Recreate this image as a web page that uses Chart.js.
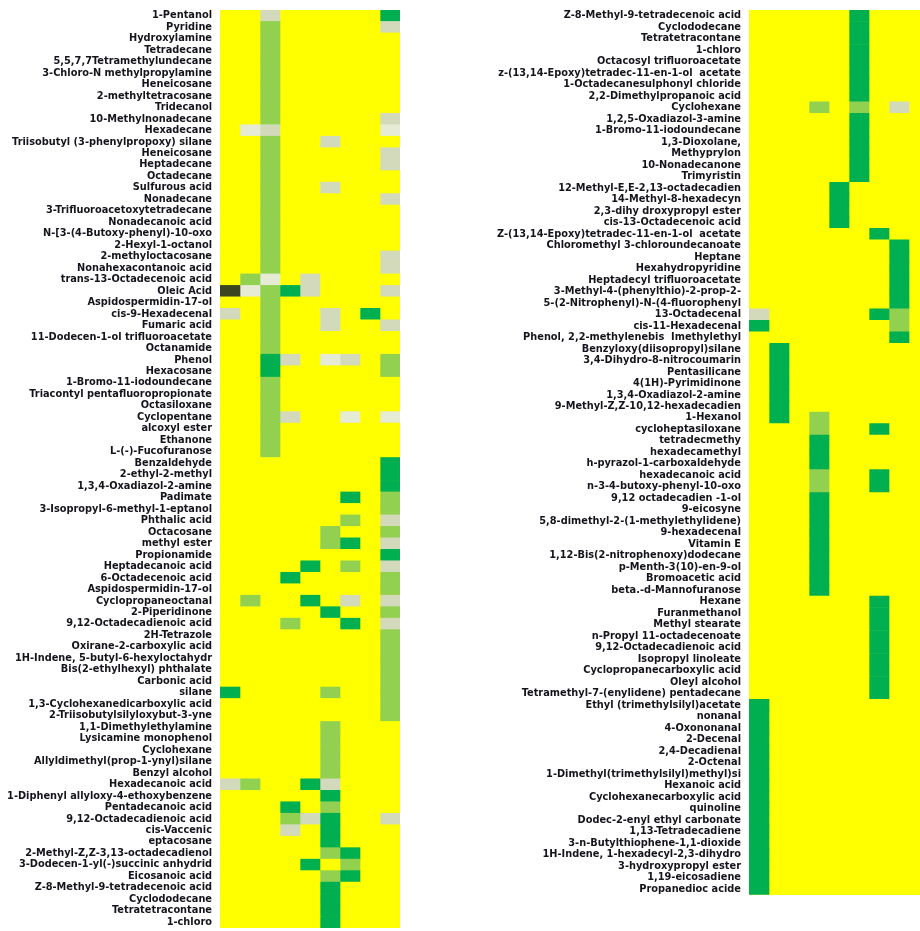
<!DOCTYPE html>
<html>
<head>
<meta charset="utf-8">
<script src="https://cdn.jsdelivr.net/npm/chart.js@4.4.1/dist/chart.umd.min.js"></script>
<style>
  html, body { margin: 0; padding: 0; background: #fff; width: 920px; height: 931px; overflow: hidden; }
  .panel { position: absolute; top: 0; }
  #left { left: 0; }
  #right { left: 440px; }
</style>
</head>
<body>
<canvas id="left" class="panel" width="400" height="931"></canvas>
<canvas id="right" class="panel" width="489" height="900"></canvas>
<script>
// Compounds of the first panel, top to bottom
const leftCompounds = [
  "1-Pentanol", "Pyridine", "Hydroxylamine", "Tetradecane", "5,5,7,7Tetramethylundecane",
  "3-Chloro-N methylpropylamine", "Heneicosane", "2-methyltetracosane", "Tridecanol", "10-Methylnonadecane",
  "Hexadecane", "Triisobutyl (3-phenylpropoxy) silane", "Heneicosane", "Heptadecane", "Octadecane",
  "Sulfurous acid", "Nonadecane", "3-Trifluoroacetoxytetradecane", "Nonadecanoic acid", "N-[3-(4-Butoxy-phenyl)-10-oxo",
  "2-Hexyl-1-octanol", "2-methyloctacosane", "Nonahexacontanoic acid", "trans-13-Octadecenoic acid", "Oleic Acid",
  "Aspidospermidin-17-ol", "cis-9-Hexadecenal", "Fumaric acid", "11-Dodecen-1-ol trifluoroacetate", "Octanamide",
  "Phenol", "Hexacosane", "1-Bromo-11-iodoundecane", "Triacontyl pentafluoropropionate", "Octasiloxane",
  "Cyclopentane", "alcoxyl ester", "Ethanone", "L-(-)-Fucofuranose", "Benzaldehyde",
  "2-ethyl-2-methyl", "1,3,4-Oxadiazol-2-amine", "Padimate", "3-Isopropyl-6-methyl-1-eptanol", "Phthalic acid",
  "Octacosane", "methyl ester", "Propionamide", "Heptadecanoic acid", "6-Octadecenoic acid",
  "Aspidospermidin-17-ol", "Cyclopropaneoctanal", "2-Piperidinone", "9,12-Octadecadienoic acid", "2H-Tetrazole",
  "Oxirane-2-carboxylic acid", "1H-Indene, 5-butyl-6-hexyloctahydr", "Bis(2-ethylhexyl) phthalate", "Carbonic acid", "silane",
  "1,3-Cyclohexanedicarboxylic acid", "2-Triisobutylsilyloxybut-3-yne", "1,1-Dimethylethylamine", "Lysicamine monophenol", "Cyclohexane",
  "Allyldimethyl(prop-1-ynyl)silane", "Benzyl alcohol", "Hexadecanoic acid", "1-Diphenyl allyloxy-4-ethoxybenzene", "Pentadecanoic acid",
  "9,12-Octadecadienoic acid", "cis-Vaccenic", "eptacosane", "2-Methyl-Z,Z-3,13-octadecadienol", "3-Dodecen-1-yl(-)succinic anhydrid",
  "Eicosanoic acid", "Z-8-Methyl-9-tetradecenoic acid", "Cyclododecane", "Tetratetracontane", "1-chloro"
];

// Intensity level per sample column (9 columns), one string per compound:
// 0 absent, 1 trace, 2 low, 3 medium, 4 high, 5 very high
const leftLevels = [
  "002000004", "003000002", "003000000", "003000000", "003000000",
  "003000000", "003000000", "003000000", "003000000", "003000002",
  "012000001", "003002000", "003000002", "003000002", "003000000",
  "003002000", "003000002", "003000000", "003000000", "003000000",
  "003000000", "003000002", "003000002", "031020000", "513420002",
  "003000000", "203002040", "003002002", "003000000", "003000000",
  "004201203", "004000003", "003000000", "003000000", "003000000",
  "003200101", "003000000", "003000000", "003000000", "000000004",
  "000000004", "000000004", "000000403", "000000003", "000000302",
  "000003003", "000003402", "000000004", "000040302", "000400003",
  "000000003", "030040202", "000004003", "000300402", "000000003",
  "000000003", "000000003", "000000003", "000000003", "400003003",
  "000000003", "000000003", "000003000", "000003000", "000003000",
  "000003000", "000003000", "230042000", "000004000", "000403000",
  "000324002", "000204000", "000004000", "000003400", "000040300",
  "000003400", "000004000", "000004000", "000004000", "000004000"
];

// Compounds of the second panel, top to bottom
const rightCompounds = [
  "Z-8-Methyl-9-tetradecenoic acid", "Cyclododecane", "Tetratetracontane", "1-chloro", "Octacosyl trifluoroacetate",
  "z-(13,14-Epoxy)tetradec-11-en-1-ol  acetate", "1-Octadecanesulphonyl chloride", "2,2-Dimethylpropanoic acid", "Cyclohexane", "1,2,5-Oxadiazol-3-amine",
  "1-Bromo-11-iodoundecane", "1,3-Dioxolane,", "Methyprylon", "10-Nonadecanone", "Trimyristin",
  "12-Methyl-E,E-2,13-octadecadien", "14-Methyl-8-hexadecyn", "2,3-dihy droxypropyl ester", "cis-13-Octadecenoic acid", "Z-(13,14-Epoxy)tetradec-11-en-1-ol  acetate",
  "Chloromethyl 3-chloroundecanoate", "Heptane", "Hexahydropyridine", "Heptadecyl trifluoroacetate", "3-Methyl-4-(phenylthio)-2-prop-2-",
  "5-(2-Nitrophenyl)-N-(4-fluorophenyl", "13-Octadecenal", "cis-11-Hexadecenal", "Phenol, 2,2-methylenebis  Imethylethyl", "Benzyloxy(diisopropyl)silane",
  "3,4-Dihydro-8-nitrocoumarin", "Pentasilicane", "4(1H)-Pyrimidinone", "1,3,4-Oxadiazol-2-amine", "9-Methyl-Z,Z-10,12-hexadecadien",
  "1-Hexanol", "cycloheptasiloxane", "tetradecmethy", "hexadecamethyl", "h-pyrazol-1-carboxaldehyde",
  "hexadecanoic acid", "n-3-4-butoxy-phenyl-10-oxo", "9,12 octadecadien -1-ol", "9-eicosyne", "5,8-dimethyl-2-(1-methylethylidene)",
  "9-hexadecenal", "Vitamin E", "1,12-Bis(2-nitrophenoxy)dodecane", "p-Menth-3(10)-en-9-ol", "Bromoacetic acid",
  "beta.-d-Mannofuranose", "Hexane", "Furanmethanol", "Methyl stearate", "n-Propyl 11-octadecenoate",
  "9,12-Octadecadienoic acid", "Isopropyl linoleate", "Cyclopropanecarboxylic acid", "Oleyl alcohol", "Tetramethyl-7-(enylidene) pentadecane",
  "Ethyl (trimethylsilyl)acetate", "nonanal", "4-Oxononanal", "2-Decenal", "2,4-Decadienal",
  "2-Octenal", "1-Dimethyl(trimethylsilyl)methyl)si", "Hexanoic acid", "Cyclohexanecarboxylic acid", "quinoline",
  "Dodec-2-enyl ethyl carbonate", "1,13-Tetradecadiene", "3-n-Butylthiophene-1,1-dioxide", "1H-Indene, 1-hexadecyl-2,3-dihydro", "3-hydroxypropyl ester",
  "1,19-eicosadiene", "Propanedioc acide"
];

const rightLevels = [
  "000004000", "000004000", "000004000", "000004000", "000004000",
  "000004000", "000004000", "000004000", "000303020", "000004000",
  "000004000", "000004000", "000004000", "000004000", "000004000",
  "000040000", "000040000", "000040000", "000040000", "000000400",
  "000000040", "000000040", "000000040", "000000040", "000000040",
  "000000040", "200000430", "400000030", "000000040", "040000000",
  "040000000", "040000000", "040000000", "040000000", "040000000",
  "040300000", "000300400", "000400000", "000400000", "000400000",
  "000300400", "000300400", "000400000", "000400000", "000400000",
  "000400000", "000400000", "000400000", "000400000", "000400000",
  "000400000", "000000400", "000000400", "000000400", "000000400",
  "000000400", "000000400", "000000400", "000000400", "000000400",
  "400000000", "400000000", "400000000", "400000000", "400000000",
  "400000000", "400000000", "400000000", "400000000", "400000000",
  "400000000", "400000000", "400000000", "400000000", "400000000",
  "400000000", "400000000"
];

// Colour for each intensity level
const levelColors = ["#ffff00", "#e6ebd6", "#d3dabb", "#92d050", "#00b050", "#3b4620"];
const columnCount = 9;

// Paints the plot area yellow so cell seams never show white
const plotBackground = {
  id: 'plotBackground',
  beforeDatasetsDraw(chart) {
    const a = chart.chartArea, ctx = chart.ctx;
    ctx.save();
    ctx.fillStyle = levelColors[0];
    ctx.fillRect(a.left, a.top, a.right - a.left, a.bottom - a.top);
    ctx.restore();
  }
};

function heatmap(canvasId, compounds, levels, axisWidth, padBottom) {
  const datasets = [];
  for (let c = 0; c < columnCount; c++) {
    datasets.push({
      data: compounds.map(() => [c, c + 1]),
      backgroundColor: levels.map(row => levelColors[+row[c]]),
      borderWidth: 0,
      grouped: false,
      barPercentage: 1,
      categoryPercentage: 1
    });
  }
  return new Chart(document.getElementById(canvasId), {
    type: 'bar',
    data: { labels: compounds, datasets },
    options: {
      indexAxis: 'y',
      responsive: false,
      animation: false,
      devicePixelRatio: 1,
      layout: { padding: { top: 10, bottom: padBottom, left: 0, right: 0 } },
      plugins: { legend: { display: false }, tooltip: { enabled: false } },
      scales: {
        x: { display: false, min: 0, max: columnCount },
        y: {
          afterFit(scale) {
            scale.width = axisWidth;
            scale.paddingTop = 0;
            scale.paddingBottom = 0;
          },
          border: { display: false },
          grid: { display: false, drawTicks: false },
          ticks: {
            autoSkip: false,
            padding: 8,
            color: '#15131c',
            font: { family: 'DejaVu Sans, sans-serif', size: 9.8, weight: 'bold' }
          }
        }
      }
    },
    plugins: [plotBackground]
  });
}

heatmap('left', leftCompounds, leftLevels, 220, 3);
heatmap('right', rightCompounds, rightLevels, 309, 5.2);
</script>
</body>
</html>
